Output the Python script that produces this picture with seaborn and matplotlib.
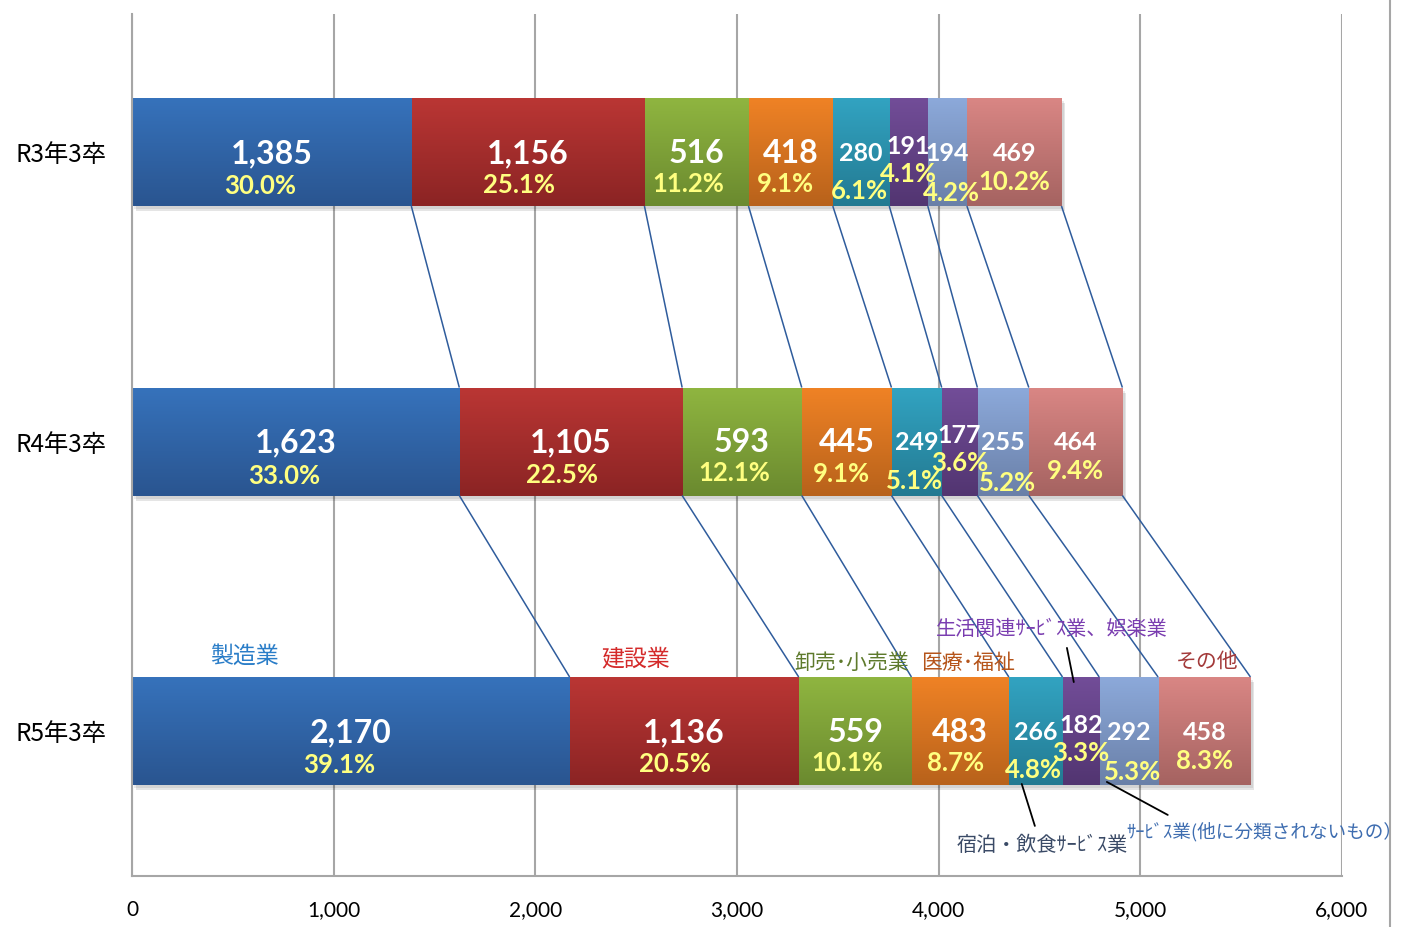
import numpy as np
import pandas as pd
import matplotlib
matplotlib.use("Agg")
import matplotlib.pyplot as plt
import matplotlib.transforms as mtransforms
from matplotlib.patches import Rectangle
from matplotlib.lines import Line2D
from matplotlib.colors import to_rgb
import seaborn as sns

# ---------------- data ----------------
years = ["R3年3卒", "R4年3卒", "R5年3卒"]
industries = ["製造業", "建設業", "卸売･小売業", "医療･福祉",
              "宿泊・飲食ｻｰﾋﾞｽ業", "生活関連ｻｰﾋﾞｽ業、娯楽業",
              "ｻｰﾋﾞｽ業(他に分類されないもの）", "その他"]
r3_counts = [1385, 1156, 516, 418, 280, 191, 194, 469]
r4_counts = [1623, 1105, 593, 445, 249, 177, 255, 464]
r5_counts = [2170, 1136, 559, 483, 266, 182, 292, 458]
r3_pct = [30.0, 25.1, 11.2, 9.1, 6.1, 4.1, 4.2, 10.2]
r4_pct = [33.0, 22.5, 12.1, 9.1, 5.1, 3.6, 5.2, 9.4]
r5_pct = [39.1, 20.5, 10.1, 8.7, 4.8, 3.3, 5.3, 8.3]
x_ticks = [0, 1000, 2000, 3000, 4000, 5000, 6000]

# ---------------- style ----------------
top_colors = ["#3672BB", "#BA3634", "#8FB540", "#EF8225", "#32A3C1", "#724D98", "#8CA9DA", "#D98684"]
bot_colors = ["#2A5590", "#8B2424", "#6B8A2F", "#B8621B", "#237A92", "#523571", "#6A80A8", "#A56361"]
base_colors = ["#3062A8", "#A52D2C", "#7EA038", "#D97220", "#2B8FAA", "#634285", "#7B95C2", "#C07472"]
cat_label_colors = ["#2A7DC8", "#D42A2A", "#5E7A2C", "#B5541A", "#3A4A66", "#7A3DB0", "#3E6DB0", "#A33A3A"]
cat_label_sizes = [16.5, 16.5, 15, 15, 14.5, 14.5, 13.4, 15]
cjk = ["Noto Sans CJK JP", "DejaVu Sans"]
latin = ["Lato", "DejaVu Sans"]

sns.set_theme(style="white")
plt.rcParams["font.family"] = latin

counts = [r3_counts, r4_counts, r5_counts]
pcts = [r3_pct, r4_pct, r5_pct]
cums = [np.cumsum(c) for c in counts]

fig = plt.figure(figsize=(14.13, 9.27), dpi=100)
ax = fig.add_axes([132 / 1413, 51 / 927, 1210 / 1413, 862 / 927])

bar_h = 0.373
shadow_tr = mtransforms.offset_copy(ax.transData, fig=fig, x=3, y=-4, units="dots")

# draw stacked bars as overlapping cumulative layers (largest first)
for j, k in enumerate(range(len(industries) - 1, -1, -1)):
    df = pd.DataFrame({"year": years, "cum": [c[k] for c in cums]})
    n_before = len(ax.patches)
    sns.barplot(data=df, x="cum", y="year", orient="h", color=base_colors[k],
                saturation=1, width=bar_h, errorbar=None, linewidth=0, ax=ax,
                zorder=2 + j * 0.01)
    new_patches = ax.patches[n_before:]
    grad = np.zeros((64, 1, 3))
    c0, c1 = np.array(to_rgb(top_colors[k])), np.array(to_rgb(bot_colors[k]))
    for r in range(64):
        t = r / 63
        grad[r, 0, :] = c0 * (1 - t) + c1 * t
    for p in new_patches:
        x0, y0 = p.get_x(), p.get_y()
        w, h = p.get_width(), p.get_height()
        p.set_zorder(2 + j * 0.01)
        ax.imshow(grad, extent=(x0, x0 + w, y0 + h, y0), origin="upper",
                  aspect="auto", interpolation="bilinear", zorder=2 + j * 0.01 + 0.001)
        if j == 0:
            for s, a in ((1.0, 0.10), (0.6, 0.08)):
                tr = mtransforms.offset_copy(ax.transData, fig=fig, x=4 * s, y=-5 * s, units="dots")
                ax.add_patch(Rectangle((x0, y0), w, h, transform=tr,
                                       facecolor="#000000", alpha=a, lw=0, zorder=1.9))

ax.set_xlim(0, 6000)
ax.set_ylim(2.501, -0.477)

# connecting lines between bars
for row in range(2):
    for i in range(len(industries)):
        ax.plot([cums[row][i], cums[row + 1][i]],
                [row + bar_h / 2, row + 1 - bar_h / 2],
                color="#2F5C9C", lw=1.1, zorder=3, solid_capstyle="butt")

# data labels
val_dy = [0, 0, 0, 0, 0, -0.025, 0, 0]
pct_dy = [0.118, 0.115, 0.11, 0.112, 0.135, 0.075, 0.142, 0.103]
pct_dx = [-55, -45, -40, -25, -10, 0, 20, 0]
for row in range(3):
    starts = cums[row] - np.array(counts[row])
    for i in range(len(industries)):
        xc = starts[i] + counts[row][i] / 2
        big = i < 4
        ax.text(xc, row + val_dy[i] + 0.005, f"{counts[row][i]:,}", ha="center", va="center",
                color="white", fontsize=23 if big else 18, fontweight="bold",
                family=latin, zorder=5)
        ax.text(xc + pct_dx[i], row + pct_dy[i], f"{pcts[row][i]:.1f}%", ha="center",
                va="center", color="#FFFF80", fontsize=18.5, fontweight="bold",
                family=latin, zorder=5)

# category labels above / below the R5 bar
cat_pos = [(560, 1.741), (2499, 1.751), (3570, 1.765), (4145, 1.765),
           (4512, 2.394), (4561, 1.648), (5617, 2.352), (5330, 1.762)]
for i, name in enumerate(industries):
    ax.text(cat_pos[i][0], cat_pos[i][1], name, ha="center", va="center",
            color=cat_label_colors[i], fontsize=cat_label_sizes[i],
            family=cjk, zorder=6, clip_on=False)

# leader lines
leaders = [((4636, 1.713), (4670, 1.831)),
           ((4412, 2.183), (4477, 2.328)),
           ((4834, 2.176), (5136, 2.29))]
for (xa, ya), (xb, yb) in leaders:
    ax.plot([xa, xb], [ya, yb], color="black", lw=1.3, zorder=6, clip_on=False)

# axes styling
ax.set_xticks(x_ticks)
ax.set_xticklabels([f"{v:,}" for v in x_ticks], family=latin, fontsize=15)
ax.set_yticks(range(3))
ax.set_yticklabels(years, family=cjk, fontsize=17.5)
ax.tick_params(axis="x", length=0, pad=17, colors="black")
ax.tick_params(axis="y", length=0, pad=18, colors="black")
ax.set_xlabel("")
ax.set_ylabel("")
ax.xaxis.grid(True, color="#A6A6A6", lw=1.5)
ax.yaxis.grid(False)
ax.set_axisbelow(True)
for s in ["top", "right"]:
    ax.spines[s].set_visible(False)
for s in ["left", "bottom"]:
    ax.spines[s].set_color("#A6A6A6")
    ax.spines[s].set_linewidth(1.5)

fig.add_artist(Line2D([1390 / 1413, 1390 / 1413], [0, 1], transform=fig.transFigure,
                      color="#A6A6A6", lw=1.5))

fig.savefig("out.png", dpi=100, facecolor="white")
